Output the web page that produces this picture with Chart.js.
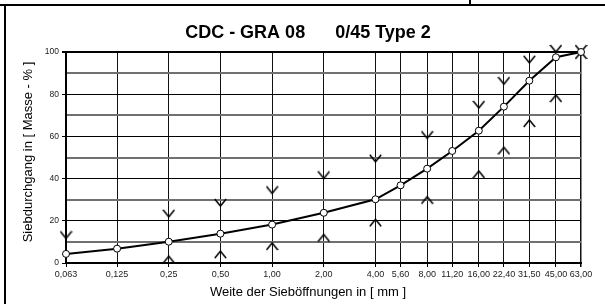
<!DOCTYPE html>
<html>
<head>
<meta charset="utf-8">
<script src="https://cdn.jsdelivr.net/npm/chart.js@4/dist/chart.umd.min.js"></script>
<style>
  html, body { margin: 0; padding: 0; background: #fff; }
  #wrap { width: 605px; height: 304px; position: relative; }
</style>
</head>
<body>
<div id="wrap"><canvas id="c" width="605" height="304"></canvas></div>
<script>
// ---- data ----
const sieveSizes   = [0.063, 0.125, 0.25, 0.5, 1, 2, 4, 5.6, 8, 11.2, 16, 22.4, 31.5, 45, 63];
const xTickLabels  = ['0,063','0,125','0,25','0,50','1,00','2,00','4,00','5,60','8,00','11,20','16,00','22,40','31,50','45,00','63,00'];
const passing      = [4.3, 6.8, 10.1, 13.9, 18.2, 23.8, 30.2, 36.8, 44.7, 53.1, 62.7, 74.1, 86.4, 97.5, 100];
const upperLimit   = [11.7, null, 21.9, 27, 33, 40.1, 48, null, 59.1, null, 73.5, 84.8, 94.9, 100, 100];
const lowerLimit   = [null, null, 3.2, 5.6, 9.5, 13.5, 20.7, null, 31.4, null, 43.6, 54.8, 67.8, 79.6, 100];
const yTickValues  = [0, 20, 40, 60, 80, 100];

const titleText  = 'CDC - GRA 08      0/45 Type 2';
const xAxisTitle = 'Weite der Sieböffnungen in [ mm ]';
const yAxisTitle = 'Siebdurchgang in [ Masse - % ]';

const FONT = "'Liberation Sans', Arial, sans-serif";

function toPoints(vals) {
  return sieveSizes.map((s, i) => ({ x: s, y: vals[i] }));
}

function makeMarker(down) {
  const cv = document.createElement('canvas');
  cv.width = 13; cv.height = 16;
  const g = cv.getContext('2d');
  g.strokeStyle = '#000';
  g.lineWidth = 1.5;
  g.lineCap = 'butt';
  g.beginPath();
  if (down) {
    g.moveTo(0.8, 1); g.lineTo(6.5, 8); g.lineTo(12.2, 1);
  } else {
    g.moveTo(0.8, 15); g.lineTo(6.5, 8); g.lineTo(12.2, 15);
  }
  g.stroke();
  return cv;
}
const vMark = makeMarker(true);
const aMark = makeMarker(false);

const decor = {
  id: 'decor',
  beforeDraw(chart) {
    const c = chart.ctx;
    c.save();
    c.fillStyle = '#fff';
    c.fillRect(0, 0, chart.width, chart.height);
    c.strokeStyle = '#000';
    c.lineWidth = 2;
    c.beginPath();
    c.moveTo(0, 5); c.lineTo(605, 5);
    c.moveTo(5, 5); c.lineTo(5, 304);
    c.moveTo(470, 0); c.lineTo(470, 5);
    c.stroke();
    c.restore();
  },
  afterDraw(chart) {
    const c = chart.ctx;
    c.save();
    c.fillStyle = '#000';
    c.textAlign = 'center';
    c.textBaseline = 'alphabetic';
    c.font = 'bold 18px ' + FONT;
    c.fillText(titleText, 308, 38);
    c.font = '13px ' + FONT;
    c.textBaseline = 'middle';
    c.fillText(xAxisTitle, 308, 292);
    c.translate(28, 152);
    c.rotate(-Math.PI / 2);
    c.fillText(yAxisTitle, 0, 0);
    c.restore();
  }
};

new Chart(document.getElementById('c'), {
  type: 'line',
  data: {
    datasets: [
      {
        label: 'Sieblinie',
        data: toPoints(passing),
        borderColor: '#000',
        borderWidth: 2,
        pointRadius: 3.5,
        pointBackgroundColor: '#fff',
        pointBorderColor: '#000',
        pointBorderWidth: 1,
        tension: 0,
        order: 0,
        clip: false
      },
      {
        label: 'Obergrenze',
        data: toPoints(upperLimit),
        showLine: false,
        pointStyle: vMark,
        order: 1,
        clip: false
      },
      {
        label: 'Untergrenze',
        data: toPoints(lowerLimit),
        showLine: false,
        pointStyle: aMark,
        order: 1,
        clip: false
      }
    ]
  },
  options: {
    responsive: false,
    devicePixelRatio: 1,
    animation: false,
    layout: { padding: { left: 0, top: 52, right: 24, bottom: 0 } },
    plugins: {
      legend: { display: false },
      title: { display: false },
      tooltip: { enabled: false }
    },
    scales: {
      x: {
        type: 'logarithmic',
        min: sieveSizes[0],
        max: sieveSizes[sieveSizes.length - 1],
        afterBuildTicks(s) { s.ticks = sieveSizes.map(v => ({ value: v })); },
        afterFit(s) { s.height = 41; },
        ticks: {
          autoSkip: false, maxRotation: 0, minRotation: 0,
          padding: 2,
          color: '#222',
          font: { family: FONT, size: 9 },
          callback: (v, i) => xTickLabels[i]
        },
        grid: {
          color: '#111',
          lineWidth: (ctx) => (ctx.index === sieveSizes.length - 1 ? 1.5 : 1),
          tickLength: 4,
          tickColor: '#000'
        },
        border: { color: '#000', width: 2 }
      },
      y: {
        min: 0, max: 100,
        ticks: {
          stepSize: 10,
          padding: 3,
          color: '#222',
          font: { family: FONT, size: 8.5 },
          callback: (v) => (yTickValues.includes(v) ? String(v) : '')
        },
        afterFit(s) { s.width = 66; },
        grid: {
          color: (ctx) => (ctx.tick && ctx.tick.value % 20 !== 0 ? '#707070' : '#000'),
          lineWidth: (ctx) => {
            if (!ctx.tick) return 1;
            if (ctx.tick.value === 100) return 2;
            return ctx.tick.value % 20 !== 0 ? 2 : 1;
          },
          tickLength: 4,
          tickColor: (ctx) => (ctx.tick && ctx.tick.value % 20 !== 0 ? 'rgba(0,0,0,0)' : '#000')
        },
        border: { color: '#000', width: 2 }
      }
    }
  },
  plugins: [decor]
});
</script>
</body>
</html>
